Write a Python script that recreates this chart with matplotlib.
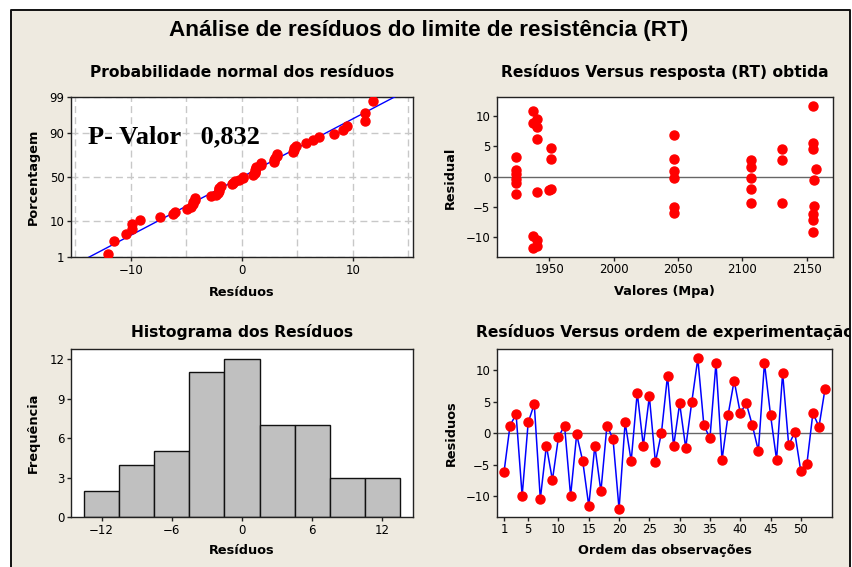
import matplotlib
matplotlib.use('Agg')
import matplotlib.pyplot as plt
import numpy as np
from statistics import NormalDist
from matplotlib.patches import Rectangle

residuos = [-6.2, 1.2, 3.0, -9.9, 1.7, 4.6, -10.4, -2.0, -7.4, -0.6,
            1.2, -9.9, -0.2, -4.4, -11.5, -2.0, -9.2, 1.2, -0.9, -12.0,
            1.7, -4.4, 6.4, -2.0, 5.8, -4.6, 0.1, 9.1, -2.1, 4.7,
            -2.3, 4.9, 11.8, 1.25, -0.8, 11.1, -4.2, 2.9, 8.3, 3.2,
            4.7, 1.25, -2.8, 11.1, 2.9, -4.2, 9.5, -1.9, 0.15, -6.0,
            -4.9, 3.2, 1.0, 7.0]
ordem = list(range(1, len(residuos) + 1))

# residuos versus valores obtidos
valores_obtidos = [1924, 1924, 1924, 1924, 1924, 1924,
                   1937, 1937, 1937, 1937,
                   1940, 1940, 1940, 1940, 1940, 1940,
                   1951, 1951, 1951, 1950,
                   2047, 2047, 2047, 2047, 2047, 2047,
                   2107, 2107, 2107, 2107, 2107,
                   2131, 2131, 2131,
                   2155, 2155, 2155, 2157, 2156, 2156, 2155, 2155, 2155]
residuos_valores = [3.2, 1.1, 0.4, -0.3, -1.0, -2.9,
                    10.9, 8.9, -9.8, -11.8,
                    9.5, 8.2, 6.3, -2.6, -10.5, -11.4,
                    4.8, 2.9, -2.1, -2.2,
                    6.8, 2.9, 1.0, -0.2, -5.0, -6.0,
                    2.7, 1.6, -0.2, -2.1, -4.3,
                    4.6, 2.7, -4.3,
                    11.6, 5.6, 4.6, 1.2, -0.6, -4.8, -6.2, -7.2, -9.1]

perc_ticks = [1, 10, 50, 90, 99]
bins_hist = np.arange(-13.5, 14, 3)

W, H = 853, 567
def fx(x): return x / W
def fy(y): return 1 - y / H
def caixa(l, t, r, b): return [fx(l), fy(b), (r - l) / W, (b - t) / H]

plt.rcParams['font.family'] = 'DejaVu Sans'
fig = plt.figure(figsize=(W / 100, H / 100), dpi=100, facecolor='white')

# fundo bege com moldura
fig.patches.append(Rectangle((fx(11), -0.02), fx(850) - fx(11), fy(9.5) + 0.02,
                             transform=fig.transFigure, facecolor='#EEEAE0',
                             edgecolor='none', zorder=-10))
fig.patches.append(Rectangle((fx(850.5), 0), 1 - fx(850.5), 1, transform=fig.transFigure,
                             facecolor='white', edgecolor='none', zorder=5))
fig.lines.append(plt.Line2D([fx(11), fx(11), fx(850), fx(850)], [-0.01, fy(9.5), fy(9.5), -0.01],
                            transform=fig.transFigure, color='#111111', lw=1.4, zorder=6))

def estilo(ax):
    for s in ['top', 'right', 'left', 'bottom']:
        ax.spines[s].set_color('#222222')
        ax.spines[s].set_linewidth(1.0)
    ax.tick_params(direction='out', length=3, width=1, color='#222222',
                   labelsize=8.5, pad=1.5, top=False, right=False)
    ax.set_facecolor('white')

tit = dict(fontsize=11.2, fontweight='bold', ha='center', va='baseline')
lab = dict(fontsize=9.3, fontweight='bold', ha='center')

fig.text(fx(429), fy(36), 'Análise de resíduos do limite de resistência (RT)',
         fontsize=16.2, fontweight='bold', ha='center', va='baseline',
         family='Liberation Sans')

# 1) probabilidade normal
ax1 = fig.add_axes(caixa(70.7, 97.3, 412.7, 257.3))
estilo(ax1)
r = np.sort(np.array(residuos))
n = len(r)
nd = NormalDist()
z = [nd.inv_cdf((i - 0.3) / (n + 0.4)) for i in range(1, n + 1)]
mu, sd = np.mean(r), np.std(r, ddof=1)
zl = np.array([-3, 3])
ax1.plot(mu + sd * zl, zl, color='blue', lw=1.0, zorder=3)
ax1.plot(r, z, 'o', color='red', ms=6.5, mec='red', zorder=4)
zt = [nd.inv_cdf(p / 100) for p in perc_ticks]
ax1.set_yticks(zt)
ax1.set_yticklabels([str(p) for p in perc_ticks])
ax1.set_ylim(zt[0], zt[-1])
ax1.set_xlim(-15.4, 15.4)
ax1.set_xticks([-10, 0, 10])
for gx in [-15, -10, -5, 0, 5, 10, 15]:
    ax1.axvline(gx, color='#c8c8c8', lw=1.0, ls=(0, (5, 3)), zorder=1)
for gz in zt:
    ax1.axhline(gz, color='#c8c8c8', lw=1.0, ls=(0, (5, 3)), zorder=1)
fig.text(fx(241.7), fy(76.7), 'Probabilidade normal dos resíduos', **tit)
fig.text(fx(241.7), fy(295.5), 'Resíduos', va='baseline', **lab)
fig.text(fx(33), fy(177), 'Porcentagem', rotation=90, va='center', **lab)
fig.text(fx(88), fy(143.3), 'P- Valor   0,832', family='Liberation Serif',
         fontweight='bold', fontsize=19, ha='left', va='baseline')

# 2) residuos vs valores
ax2 = fig.add_axes(caixa(496.7, 97.3, 833, 256.7))
estilo(ax2)
ax2.axhline(0, color='#666666', lw=1.0, zorder=1)
ax2.plot(valores_obtidos, residuos_valores, 'o', color='red', ms=6.5, mec='red', zorder=3)
ax2.set_xlim(1909, 2170.4)
ax2.set_ylim(-13.2, 13.1)
ax2.set_xticks([1950, 2000, 2050, 2100, 2150])
ax2.set_yticks([-10, -5, 0, 5, 10])
fig.text(fx(664.9), fy(77.3), 'Resíduos Versus resposta (RT) obtida', **tit)
fig.text(fx(664.9), fy(295), 'Valores (Mpa)', va='baseline', **lab)
fig.text(fx(450), fy(178), 'Residual', rotation=90, va='center', **lab)

# 3) histograma
ax3 = fig.add_axes(caixa(70.7, 349.3, 412.7, 517.3))
estilo(ax3)
ax3.hist(residuos, bins=bins_hist, color='#C0C0C0', edgecolor='#111111', lw=1.0)
ax3.set_xlim(-14.65, 14.6)
ax3.set_ylim(0, 12.76)
ax3.set_xticks([-12, -6, 0, 6, 12])
ax3.set_yticks([0, 3, 6, 9, 12])
fig.text(fx(241.7), fy(337.3), 'Histograma dos Resíduos', **tit)
fig.text(fx(241.7), fy(554), 'Resíduos', va='baseline', **lab)
fig.text(fx(33), fy(433), 'Frequência', rotation=90, va='center', **lab)

# 4) residuos vs ordem
ax4 = fig.add_axes(caixa(496.7, 349, 832.3, 516.7))
estilo(ax4)
ax4.axhline(0, color='#666666', lw=1.0, zorder=1)
ax4.plot(ordem, residuos, color='blue', lw=1.1, zorder=2)
ax4.plot(ordem, residuos, 'o', color='red', ms=6.5, mec='red', zorder=3)
ax4.set_xlim(-0.2, 55.2)
ax4.set_ylim(-13.2, 13.3)
ax4.set_xticks([1, 5, 10, 15, 20, 25, 30, 35, 40, 45, 50])
ax4.set_yticks([-10, -5, 0, 5, 10])
fig.text(fx(664.5), fy(336.7), 'Resíduos Versus ordem de experimentação', **tit)
fig.text(fx(664.5), fy(554), 'Ordem das observações', va='baseline', **lab)
fig.text(fx(451), fy(433), 'Residuos', rotation=90, va='center', **lab)

fig.savefig('out.png', dpi=100, facecolor='white')
